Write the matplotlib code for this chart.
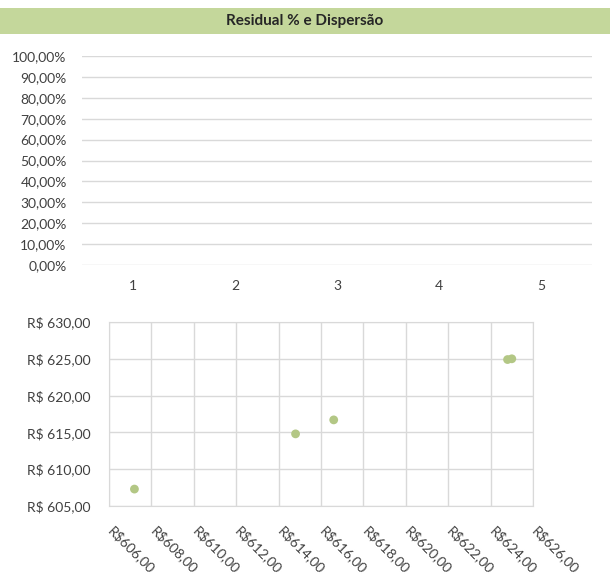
import matplotlib
matplotlib.use("Agg")
import matplotlib.pyplot as plt
from matplotlib.patches import Rectangle
from matplotlib.transforms import ScaledTranslation
import numpy as np

# data
categorias = [1, 2, 3, 4, 5]
residual_ticks = [0.0, 0.1, 0.2, 0.3, 0.4, 0.5, 0.6, 0.7, 0.8, 0.9, 1.0]
preco_real = [607.2, 614.8, 616.6, 624.8, 625.0]
preco_previsto = [607.3, 614.8, 616.7, 624.9, 625.0]
x_ticks = [606, 608, 610, 612, 614, 616, 618, 620, 622, 624, 626]
y_ticks = [605, 610, 615, 620, 625, 630]

plt.rcParams['font.family'] = ['Lato', 'DejaVu Sans']
grid_c = '#d9d9d9'
txt_c = '#404040'
pt_c = '#b3c785'

fig = plt.figure(figsize=(6.1, 5.74), dpi=100)

# title band
fig.patches.append(Rectangle((0, 1 - 34 / 574), 1, 26 / 574, transform=fig.transFigure,
                             facecolor='#c4d79b', edgecolor='none', zorder=0))
fig.text(0.5, 1 - 21 / 574, 'Residual % e Dispersão', ha='center', va='center',
         fontsize=11, fontweight='bold', color='#262626')

# top chart (residual %)
ax1 = fig.add_axes([82 / 610, 1 - 265 / 574, 510 / 610, 209 / 574])
ax1.set_xlim(0.5, len(categorias) + 0.5)
ax1.set_ylim(0, 1)
ax1.set_xticks(categorias)
ax1.set_xticklabels([str(c) for c in categorias])
ax1.set_yticks(residual_ticks)
ax1.set_yticklabels([('%.2f%%' % (v * 100)).replace('.', ',') for v in residual_ticks])
ax1.grid(axis='y', color=grid_c, lw=1)
ax1.set_axisbelow(True)
for s in ax1.spines.values():
    s.set_visible(False)
ax1.tick_params(length=0, labelsize=10, colors=txt_c)
ax1.tick_params(axis='y', pad=11)
ax1.tick_params(axis='x', pad=11)

# bottom chart (dispersion)
ax2 = fig.add_axes([109 / 610, 1 - 506 / 574, 424 / 610, 184 / 574])
ax2.scatter(preco_real, preco_previsto, s=40, color=pt_c, edgecolors='none', zorder=3)
ax2.set_xlim(606, 626)
ax2.set_ylim(605, 630)
ax2.set_xticks(x_ticks)
ax2.set_xticklabels([('R$%.2f' % v).replace('.', ',') for v in x_ticks],
                    rotation=-45, ha='left', va='top', rotation_mode='anchor')
ax2.set_yticks(y_ticks)
ax2.set_yticklabels([('R$ %.2f' % v).replace('.', ',') for v in y_ticks])
ax2.grid(True, color=grid_c, lw=1)
ax2.set_axisbelow(True)
for s in ax2.spines.values():
    s.set_color(grid_c)
ax2.tick_params(length=0, labelsize=10, colors=txt_c)
ax2.tick_params(axis='y', pad=13.5)
ax2.tick_params(axis='x', pad=13)

shift = ScaledTranslation(6 / 100, 0, fig.dpi_scale_trans)
for lbl in ax2.get_xticklabels():
    lbl.set_transform(lbl.get_transform() + shift)

fig.savefig('out.png', dpi=100)
